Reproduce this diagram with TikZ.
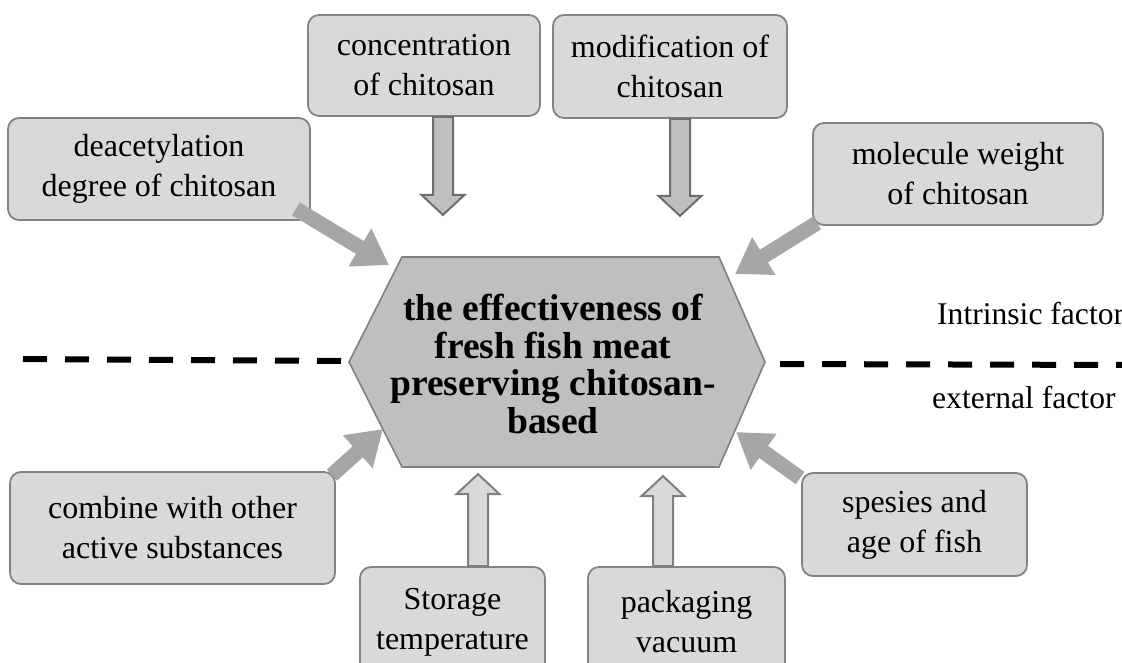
\documentclass[tikz,border=0pt]{standalone}
\usepackage{fontspec}
\setmainfont{Liberation Serif}
\usetikzlibrary{arrows.meta,calc}
\definecolor{boxfill}{HTML}{D9D9D9}
\definecolor{boxline}{HTML}{838383}
\definecolor{hexfill}{HTML}{BFBFBF}
\definecolor{hexline}{HTML}{808080}
\definecolor{diagcol}{HTML}{A6A6A6}
\definecolor{downline}{HTML}{6E6E6E}
\definecolor{upline}{HTML}{7F7F7F}
\begin{document}
\begin{tikzpicture}[x=1pt,y=-1pt,
  fbox/.style={draw=boxline, fill=boxfill, line width=1.8pt, rounded corners=11pt,
    align=center, inner sep=0pt, font=\fontsize{32}{40}\selectfont},
  hexbody/.style={draw=hexline, fill=hexfill, line width=1.6pt, line join=miter},
  hextext/.style={align=center, inner sep=0pt, font=\fontsize{37.5}{37.5}\selectfont\bfseries},
  downarr/.style={draw=downline, fill=hexfill, line width=2pt, line join=miter},
  uparr/.style={draw=upline, fill=boxfill, line width=2pt, line join=miter},
  diagarr/.style={draw=diagcol, line width=15pt, -{Triangle[width=42pt,length=34pt]}},
  dashline/.style={line width=6pt, dash pattern=on 24pt off 18pt},
  side/.style={anchor=base west, inner sep=0pt, font=\fontsize{31.6}{37}\selectfont}]
\useasboundingbox (0,0) rectangle (1122,662);

% dashed divider
\coordinate (dl1) at (23,359);
\coordinate (dl2) at (342,361);
\coordinate (dr1) at (780,364);
\coordinate (dr2) at (1130,365);
\draw[dashline] (dl1) -- (dl2);
\draw[dashline] (dr1) -- (dr2);

% central hexagon
\coordinate (hA) at (349,362);
\coordinate (hB) at (402,257);
\coordinate (hC) at (719,257);
\coordinate (hD) at (765,362);
\coordinate (hE) at (719,467);
\coordinate (hF) at (402,467);
\draw[hexbody] (hA) -- (hB) -- (hC) -- (hD) -- (hE) -- (hF) -- cycle;
\node[hextext] (hex) at (553,364) {the effectiveness of\\fresh fish meat\\preserving chitosan-\\based};

% boxes
\node[fbox, minimum width=232pt, minimum height=101pt] (conc) at (424,65.5) {concentration\\of chitosan};
\node[fbox, minimum width=234pt, minimum height=103pt] (modif) at (670,66.5) {modification of\\chitosan};
\node[fbox, minimum width=302pt, minimum height=102pt] (deac) at (159,169) {deacetylation\\degree of chitosan};
\node[fbox, minimum width=290pt, minimum height=102pt] (molec) at (958,174) {molecule weight\\of chitosan};
\node[fbox, minimum width=325pt, minimum height=112pt] (comb) at (172.5,528) {combine with other\\active substances};
\node[fbox, minimum width=225pt, minimum height=103pt] (spec) at (914.5,524.5) {spesies and\\age of fish};
\node[fbox, minimum width=185pt, minimum height=110pt] (stor) at (452.5,622) {Storage\\temperature};
\node[fbox, minimum width=197pt, minimum height=110pt] (pack) at (686.5,622) {packaging\\vacuum};

% side labels
\node[side] (intr) at (937,324) {Intrinsic factor};
\node[side] (extr) at (932,408) {external factor};

% block arrows (down)
\coordinate (ca) at ($(conc.south)+(19,0)$);
\draw[downarr] ($(ca)+(-10,0)$) -- ++(20,0) -- ++(0,78) -- ++(11.5,0) -- ++(-21.5,20) -- ++(-21.5,-20) -- ++(11.5,0) -- cycle;
\coordinate (ma) at ($(modif.south)+(10,0)$);
\draw[downarr] ($(ma)+(-10,0)$) -- ++(20,0) -- ++(0,77) -- ++(11.5,0) -- ++(-21.5,20) -- ++(-21.5,-20) -- ++(11.5,0) -- cycle;

% block arrows (up)
\coordinate (sa) at ($(stor.north)+(25.5,0)$);
\draw[uparr] ($(sa)+(-10,0)$) -- ++(20,0) -- ++(0,-72) -- ++(11.5,0) -- ++(-21.5,-20) -- ++(-21.5,20) -- ++(11.5,0) -- cycle;
\coordinate (pa) at ($(pack.north)+(-23.5,0)$);
\draw[uparr] ($(pa)+(-10,0)$) -- ++(20,0) -- ++(0,-70) -- ++(11.5,0) -- ++(-21.5,-20) -- ++(-21.5,20) -- ++(11.5,0) -- cycle;

% diagonal arrows
\coordinate (t1) at (389,265);
\coordinate (t2) at (735,274);
\coordinate (t3) at (383,429);
\coordinate (t4) at (736,432);
\draw[diagarr] ($(deac.south east)+(-15,-12)$) -- (t1);
\draw[diagarr] ($(molec.south west)+(5,-3)$) -- (t2);
\draw[diagarr] ($(comb.north east)+(-4,4)$) -- (t3);
\draw[diagarr] ($(spec.north west)+(-1,6)$) -- (t4);
\end{tikzpicture}
\end{document}
